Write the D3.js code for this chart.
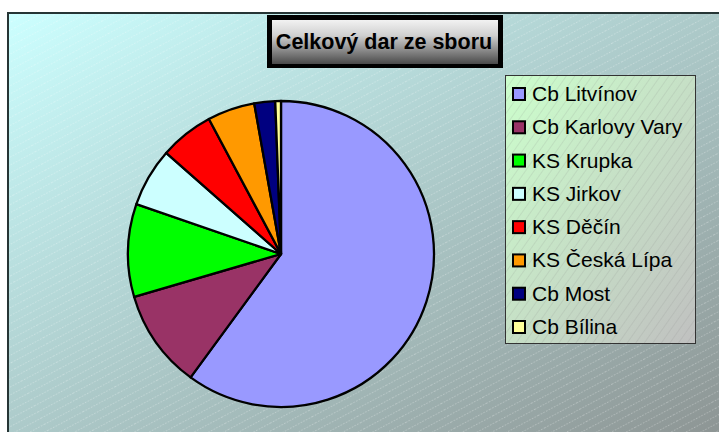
<!DOCTYPE html>
<html><head><meta charset="utf-8">
<script src="https://cdn.jsdelivr.net/npm/d3@7"></script>
<style>html,body{margin:0;padding:0;background:#fff;}svg{display:block;}</style>
</head><body>
<script>
const categories = ["Cb Litvínov","Cb Karlovy Vary","KS Krupka","KS Jirkov","KS Děčín","KS Česká Lípa","Cb Most","Cb Bílina"];
const values = [60.0,10.4,9.8,6.2,5.7,5.0,2.2,0.6];
const colors = ["#9999ff","#993366","#00ff00","#ccffff","#ff0000","#ff9900","#000080","#ffff99"];
const title = "Celkový dar ze sboru";

const W = 719, H = 432;
const svg = d3.select("body").append("svg").attr("width", W).attr("height", H);
const defs = svg.append("defs");

const bg = defs.append("linearGradient").attr("id","bgGrad").attr("x1","0").attr("y1","0").attr("x2","1").attr("y2","1");
bg.append("stop").attr("offset","0").attr("stop-color","#ccffff");
bg.append("stop").attr("offset","1").attr("stop-color","#8c9392");

const hatch = defs.append("pattern").attr("id","hatch").attr("patternUnits","userSpaceOnUse")
  .attr("width",40).attr("height",7).attr("patternTransform","rotate(-28)");
hatch.append("line").attr("x1",0).attr("y1",3.5).attr("x2",40).attr("y2",3.5)
  .attr("stroke","#ffffff").attr("stroke-opacity",0.28).attr("stroke-width",1).attr("stroke-dasharray","1.5,1.5");

const lg = defs.append("linearGradient").attr("id","legGrad").attr("x1","0").attr("y1","0").attr("x2","1").attr("y2","1");
lg.append("stop").attr("offset","0").attr("stop-color","#ccffcc");
lg.append("stop").attr("offset","1").attr("stop-color","#c0c0c0");

const lhatch = defs.append("pattern").attr("id","lhatch").attr("patternUnits","userSpaceOnUse")
  .attr("width",40).attr("height",7).attr("patternTransform","rotate(-55)");
lhatch.append("line").attr("x1",0).attr("y1",3.5).attr("x2",40).attr("y2",3.5)
  .attr("stroke","#808080").attr("stroke-opacity",0.15).attr("stroke-width",1);

const tg = defs.append("linearGradient").attr("id","titleGrad").attr("x1","0").attr("y1","0").attr("x2","0").attr("y2","1");
tg.append("stop").attr("offset","0").attr("stop-color","#f2f2f2");
tg.append("stop").attr("offset","0.35").attr("stop-color","#d0d0d0");
tg.append("stop").attr("offset","1").attr("stop-color","#4a4a4a");

// chart area
svg.append("rect").attr("x",8).attr("y",13).attr("width",W).attr("height",H).attr("fill","url(#bgGrad)");
svg.append("rect").attr("x",8).attr("y",13).attr("width",W).attr("height",H).attr("fill","url(#hatch)");
svg.append("rect").attr("x",8).attr("y",13).attr("width",W+10).attr("height",H+10)
  .attr("fill","none").attr("stroke","#263535").attr("stroke-width",2);

// pie
const cx = 281, cy = 254, r = 153;
const pie = d3.pie().sort(null).value(d => d.v);
const arc = d3.arc().innerRadius(0).outerRadius(r);
const data = categories.map((c,i) => ({c, v: values[i], col: colors[i]}));
svg.append("g").attr("transform",`translate(${cx},${cy})`)
  .selectAll("path").data(pie(data)).join("path")
  .attr("d", arc).attr("fill", d => d.data.col)
  .attr("stroke","#000").attr("stroke-width",2.3).attr("stroke-linejoin","round");

// title
svg.append("rect").attr("x",267).attr("y",15).attr("width",236).attr("height",53).attr("fill","#000");
svg.append("rect").attr("x",272).attr("y",20).attr("width",226).attr("height",44).attr("fill","url(#titleGrad)");
svg.append("text").attr("x",384).attr("y",49).attr("text-anchor","middle")
  .attr("font-family","Liberation Sans, Arial, sans-serif").attr("font-weight","bold").attr("font-size",21.5)
  .attr("fill","#000").text(title);

// legend
const lx = 505.5, ly = 75.5, lw = 190, lh = 268;
svg.append("rect").attr("x",lx).attr("y",ly).attr("width",lw).attr("height",lh).attr("fill","url(#legGrad)");
svg.append("rect").attr("x",lx).attr("y",ly).attr("width",lw).attr("height",lh).attr("fill","url(#lhatch)")
  .attr("stroke","#333").attr("stroke-width",1);
const rowY = d3.scalePoint().domain(categories).range([94, 327]);
const items = svg.append("g").selectAll("g").data(data).join("g")
  .attr("transform", d => `translate(0,${rowY(d.c)})`);
items.append("rect").attr("x",513).attr("y",-6).attr("width",12).attr("height",12)
  .attr("fill", d => d.col).attr("stroke","#000").attr("stroke-width",2);
items.append("text").attr("x",532).attr("y",7)
  .attr("font-family","Liberation Sans, Arial, sans-serif").attr("font-size",21)
  .attr("fill","#000").text(d => d.c);
</script>
</body></html>
